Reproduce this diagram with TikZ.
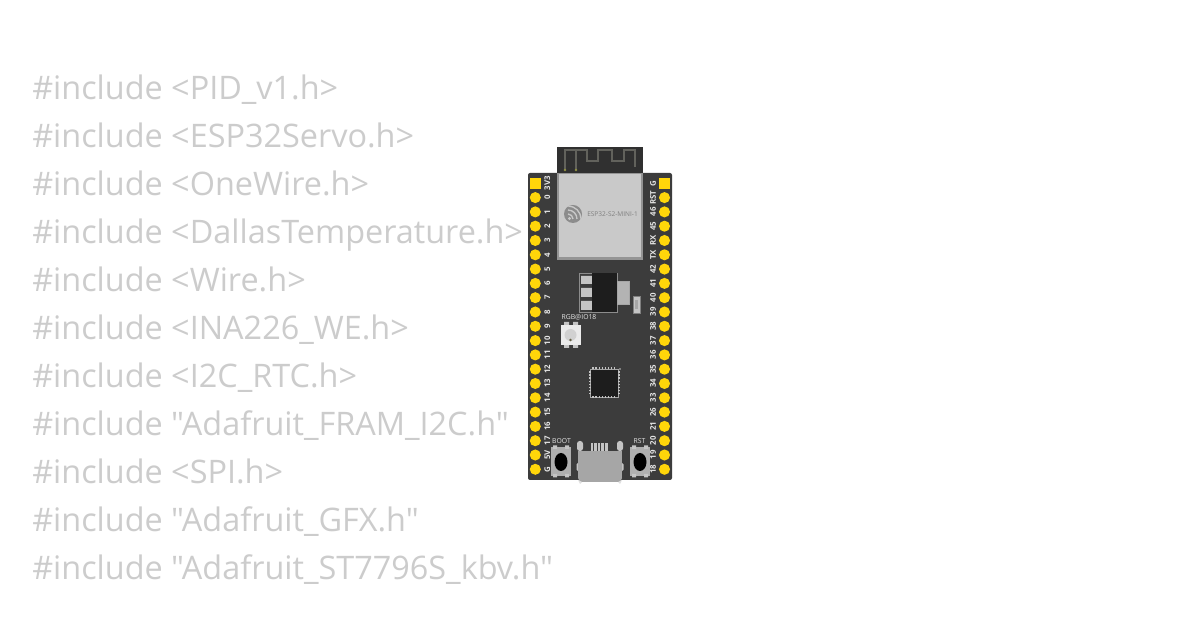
\documentclass[tikz,border=0pt]{standalone}
\usepackage{fontspec}
\setmainfont{Open Sans}[Ligatures=TeXOff]
\definecolor{codegray}{HTML}{CCCCCC}
\definecolor{boardc}{HTML}{3C3C3C}
\definecolor{antc}{HTML}{303030}
\definecolor{tracec}{HTML}{62625C}
\definecolor{modc}{HTML}{C9C9C9}
\definecolor{pinc}{HTML}{FFD60A}
\definecolor{labc}{HTML}{E6E6E6}
\definecolor{metalc}{HTML}{A6A6A6}
\definecolor{padc}{HTML}{C4C4C4}
\tikzset{
  codeline/.style={anchor=base west,inner sep=0pt,text=codegray,font=\fontsize{24.3}{24}\selectfont},
  pinpad/.style={circle,fill=pinc,minimum size=8.3pt,inner sep=0pt},
  pinsquare/.style={rectangle,fill=pinc,minimum size=8.3pt,inner sep=0pt},
  pinlab/.style={rotate=90,inner sep=0pt,text=labc,font=\fontsize{5.9}{6}\selectfont\bfseries},
  silk/.style={inner sep=0pt,text=labc,font=\fontsize{5.1}{6}\selectfont},
}
\begin{document}
\begin{tikzpicture}[x=0.75pt,y=-0.75pt]
\useasboundingbox[fill=white] (0,0) rectangle (1200,630);
% code text
\foreach \n/\t/\yy in {
  c1/{\#include <PID\_v1.h>}/100,
  c2/{\#include <ESP32Servo.h>}/148,
  c3/{\#include <OneWire.h>}/196,
  c4/{\#include <DallasTemperature.h>}/244,
  c5/{\#include <Wire.h>}/292,
  c6/{\#include <INA226\_WE.h>}/340,
  c7/{\#include <I2C\_RTC.h>}/388,
  c8/{\#include "Adafruit\_FRAM\_I2C.h"}/436,
  c9/{\#include <SPI.h>}/484,
  c10/{\#include "Adafruit\_GFX.h"}/532,
  c11/{\#include "Adafruit\_ST7796S\_kbv.h"}/580}
  \node[codeline] (\n) at (32,\yy) {\t};
% board
\fill[boardc,rounded corners=1.5pt] (528,173) rectangle (672,480);
\fill[antc] (557,147) rectangle (643,174);
\draw[tracec,line width=1.2pt] (565,170) -- (565,150) -- (587,150) -- (587,161) -- (598,161) -- (598,150) -- (612,150) -- (612,161) -- (624,161) -- (624,150) -- (635,150) -- (635,167);
\draw[tracec,line width=1.2pt] (576,170) -- (576,150);
\fill[tracec!70!yellow] (565,170) circle (1.3) (576,170) circle (1.3);
% module
\fill[black!42] (557,173) rectangle (643,260);
\fill[modc] (559,174) rectangle (641,257.5);
% espressif logo
\fill[black!45] (573,214) circle (9);
\begin{scope}
\clip (573,214) circle (9);
\draw[modc,line width=1pt] (568,206) arc[start angle=-90,end angle=0,radius=13];
\draw[modc,line width=1pt] (568,210) arc[start angle=-90,end angle=0,radius=9];
\draw[modc,line width=1pt] (568,214) arc[start angle=-90,end angle=0,radius=5];
\fill[modc] (569.5,218.5) circle (1.7);
\end{scope}
\node[inner sep=0pt,text=black!50,font=\fontsize{4.9}{6}\selectfont] (modlab) at (612.5,214.5) {ESP32-S2-MINI-1};
% pins left
\foreach \i/\l in {0/3V3,1/0,2/1,3/2,4/3,5/4,6/5,7/6,8/7,9/8,10/9,11/10,12/11,13/12,14/13,15/14,16/15,17/16,18/17,19/5V,20/G}{
  \pgfmathsetmacro{\yy}{183.3+14.3*\i}
  \ifnum\i=0 \node[pinsquare] (L\i) at (535.3,\yy) {}; \else \node[pinpad] (L\i) at (535.3,\yy) {}; \fi
  \node[pinlab] (LL\i) at (547.3,\yy) {\l};
}
% pins right
\foreach \i/\l in {0/G,1/RST,2/46,3/45,4/RX,5/TX,6/42,7/41,8/40,9/39,10/38,11/37,12/36,13/35,14/34,15/33,16/26,17/21,18/20,19/19,20/18}{
  \pgfmathsetmacro{\yy}{183.3+14.3*\i}
  \ifnum\i=0 \node[pinsquare] (R\i) at (664.5,\yy) {}; \else \node[pinpad] (R\i) at (664.5,\yy) {}; \fi
  \node[pinlab] (RL\i) at (653,\yy) {\l};
}
% regulator
\draw[black!45!white,line width=0.5pt] (579.5,273.5) rectangle (617,312);
\fill[padc] (581,276) rectangle (592,284) (581,288) rectangle (592,297) (581,301) rectangle (592,310);
\fill[antc!60!black] (592,273.5) rectangle (617,312);
\fill[metalc!85!white,draw=black!35] (617,281) rectangle (629,304);
\fill[padc,draw=black!50,line width=0.4pt] (633,296) rectangle (640,313);
\fill[black!35] (635,300) rectangle (638,309);
% LED
\node[silk] (rgb) at (579,317) {RGB@IO18};
\fill[padc] (564,322) rectangle (569,348) (573,322) rectangle (578,348);
\fill[white!92!black] (561,325) rectangle (581,345);
\fill[white!82!black] (570.5,335) circle (6);
\fill[black!70!yellow] (570.5,340) circle (1.3);
% chip
\draw[black!35,line width=0.4pt,fill=antc!60!black] (590,369) rectangle (618,397);
\foreach \k in {0,...,7}{
  \pgfmathsetmacro{\p}{593+\k*3.1}
  \fill[padc] (\p-0.7,367.5) rectangle (\p+0.7,369.5);
  \fill[padc] (\p-0.7,396.5) rectangle (\p+0.7,398.5);
  \pgfmathsetmacro{\q}{372+\k*3.1}
  \fill[padc] (588.5,\q-0.7) rectangle (590.5,\q+0.7);
  \fill[padc] (617.5,\q-0.7) rectangle (619.5,\q+0.7);
}
\fill[padc] (620,369) circle (0.8);
% silk labels for buttons
\node[silk] (bootl) at (561.5,441) {BOOT};
\node[silk] (rstl) at (639.5,441) {RST};
% buttons
\foreach \n/\cx in {b/561,r/640}{
  \fill[metalc!90!white] (\cx-10,447) rectangle (\cx+10,476);
  \fill[black] (\cx,462) ellipse (6.5 and 9);
  \fill[padc] (\cx-8,445.5) rectangle (\cx-4,449) (\cx+4,445.5) rectangle (\cx+8,449) (\cx-8,474) rectangle (\cx-4,477.5) (\cx+4,474) rectangle (\cx+8,477.5);
}
% USB
\foreach \k in {0,1,2,3,4}\fill[padc] (590.5+\k*3.6,443.5) rectangle (593.2+\k*3.6,451.5);
\fill[padc,rounded corners=2pt] (577,441) rectangle (583,451);
\fill[padc,rounded corners=2pt] (617,441) rectangle (623,451);
\fill[padc,rounded corners=1pt] (576.5,463) rectangle (580,471) (620,463) rectangle (623.5,471);
\fill[metalc] (578,451) rectangle (622,478);
\fill[metalc] (578,478) -- (580,482) -- (620,482) -- (622,478) -- cycle;
\fill[white!88!black] (578,480) -- (580,484) -- (582,482) -- cycle (622,480) -- (620,484) -- (618,482) -- cycle;
\end{tikzpicture}
\end{document}
